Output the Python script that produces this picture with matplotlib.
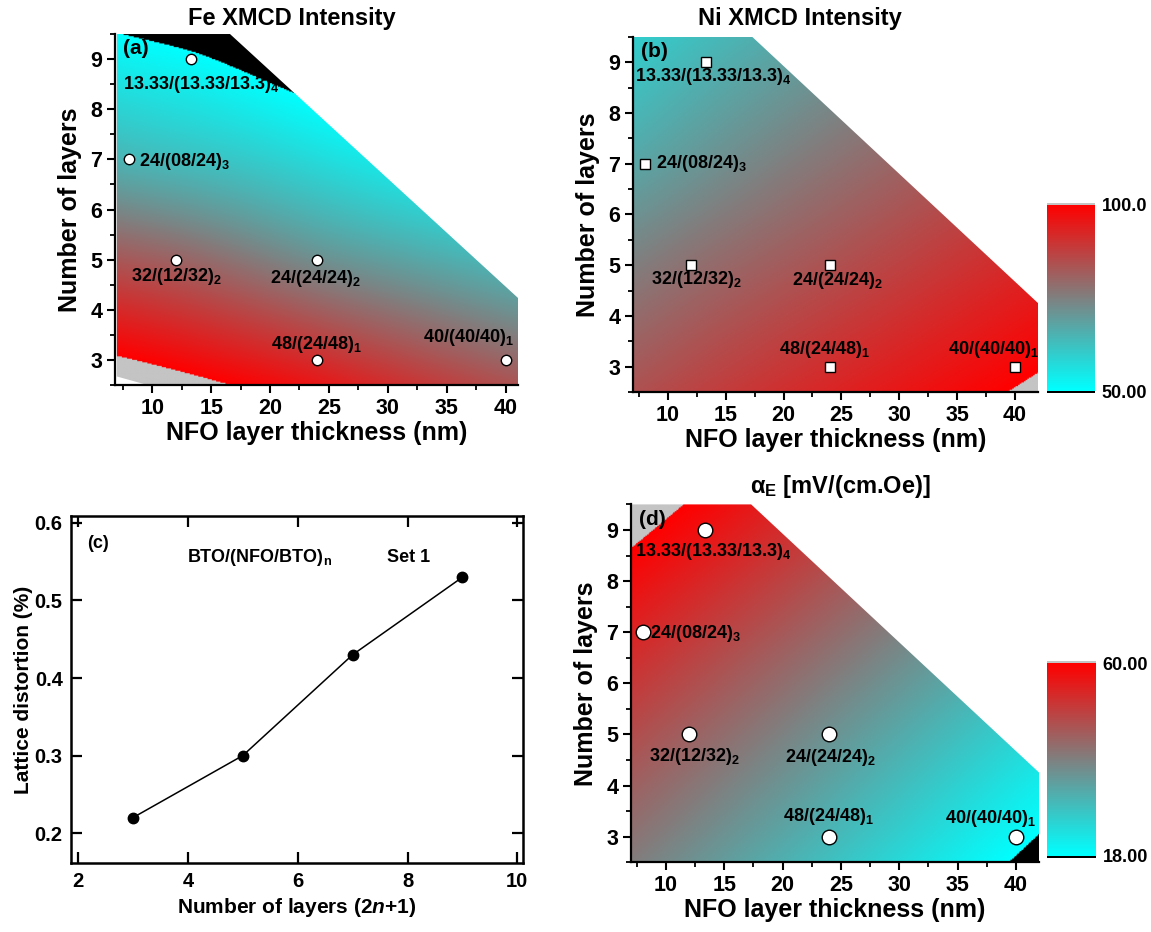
import numpy as np
import matplotlib
matplotlib.use("Agg")
import matplotlib.pyplot as plt
from matplotlib.colors import LinearSegmentedColormap, Normalize
from matplotlib.patches import Polygon
from matplotlib.ticker import MultipleLocator
import matplotlib.cm as cm

plt.rcParams['font.family'] = ['Liberation Sans', 'DejaVu Sans']
plt.rcParams['font.weight'] = 'bold'
plt.rcParams['axes.labelweight'] = 'bold'
plt.rcParams['mathtext.fontset'] = 'custom'
plt.rcParams['mathtext.rm'] = 'Liberation Sans:bold'
plt.rcParams['mathtext.bf'] = 'Liberation Sans:bold'
plt.rcParams['mathtext.it'] = 'Liberation Sans:bold:italic'
plt.rcParams['mathtext.default'] = 'bf'

# ---------------- data ----------------
# sample positions: NFO layer thickness (nm) and number of layers
sample_thickness = [13.33, 8, 12, 24, 24, 40]
sample_layers = [9, 7, 5, 5, 3, 3]
sample_names = ["13.33/(13.33/13.3)$_4$", "24/(08/24)$_3$", "32/(12/32)$_2$",
                "24/(24/24)$_2$", "48/(24/48)$_1$", "40/(40/40)$_1$"]

fe_xmcd = [51.0, 64.5, 80.5, 72, 91.0, 80]
ni_xmcd = [65, 68, 78, 84, 91, 98.6]
alpha_e = [57, 53.5, 44, 36, 30, 19.2]

xmcd_range = [50.0, 100.0]
alpha_range = [18.0, 60.0]
xmcd_tick_labels = ["50.00", "100.0"]
alpha_tick_labels = ["18.00", "60.00"]

# lattice distortion panel
n_layers = [3, 5, 7, 9]
lattice_distortion = [0.22, 0.30, 0.43, 0.53]

# mapped region outlines
region_a_x = [7.0, 7.0, 16.6, 42.0, 42.0, 9.6]
region_a_y = [2.67, 9.5, 9.5, 4.03, 2.5, 2.5]
region_x = [7.0, 7.0, 17.3, 42.0, 42.0]
region_y = [2.5, 9.5, 9.5, 4.25, 2.5]

# label positions (left, baseline) per panel
lab_a_x = [7.54, 8.87, 8.19, 19.98, 20.1, 33.0]
lab_a_y = [8.41, 6.87, 4.58, 4.54, 3.22, 3.35]
lab_b_x = [7.2, 8.94, 8.59, 20.76, 19.6, 34.2]
lab_b_y = [8.63, 6.92, 4.63, 4.61, 3.25, 3.25]
lab_d_x = [7.34, 8.63, 8.54, 20.2, 20.0, 33.9]
lab_d_y = [8.49, 6.89, 4.48, 4.46, 3.30, 3.27]

# ---------------- helpers ----------------
cmap = LinearSegmentedColormap.from_list("cyanred", ["#00ffff", "#ff0000"])
cmap.set_under("black")
cmap.set_over("#c4c4c4")


def tps_field(px, py, pz, gx, gy):
    sx, sy = 35.0, 7.0
    X = np.column_stack([np.asarray(px, float) / sx, np.asarray(py, float) / sy])
    G = np.column_stack([gx.ravel() / sx, gy.ravel() / sy])

    def U(r):
        with np.errstate(divide='ignore', invalid='ignore'):
            v = r ** 2 * np.log(r)
        return np.nan_to_num(v)
    n = len(px)
    K = U(np.linalg.norm(X[:, None] - X[None], axis=2))
    P = np.column_stack([np.ones(n), X])
    A = np.zeros((n + 3, n + 3))
    A[:n, :n] = K
    A[:n, n:] = P
    A[n:, :n] = P.T
    b = np.concatenate([np.asarray(pz, float), np.zeros(3)])
    sol = np.linalg.solve(A, b)
    w, a = sol[:n], sol[n:]
    Kg = U(np.linalg.norm(G[:, None] - X[None], axis=2))
    return (Kg @ w + a[0] + G @ a[1:]).reshape(gx.shape)


def map_panel(ax, values, vrange, rx, ry, xlim, labx, laby, marker, ms, tag):
    gxv = np.linspace(6.5, 42.5, 500)
    gyv = np.linspace(2.4, 9.6, 300)
    gx, gy = np.meshgrid(gxv, gyv)
    field = tps_field(sample_thickness, sample_layers, values, gx, gy)
    norm = Normalize(vmin=vrange[0], vmax=vrange[1])
    im = ax.imshow(field, origin='lower', extent=[gxv[0], gxv[-1], gyv[0], gyv[-1]],
                   cmap=cmap, norm=norm, aspect='auto', interpolation='bilinear')
    poly = Polygon(np.column_stack([rx, ry]), closed=True, transform=ax.transData,
                   facecolor='none', edgecolor='none')
    ax.add_patch(poly)
    im.set_clip_path(poly)
    ax.plot(sample_thickness, sample_layers, linestyle='none', marker=marker,
            ms=ms, mfc='white', mec='black', mew=1.0, zorder=5)
    for name, lx, ly in zip(sample_names, labx, laby):
        ax.text(lx, ly, name, fontsize=13, fontweight='bold', ha='left', va='baseline', zorder=6)
    ax.set_xlim(*xlim)
    ax.set_ylim(2.5, 9.5)
    ax.xaxis.set_major_locator(MultipleLocator(5))
    ax.xaxis.set_minor_locator(MultipleLocator(2.5))
    ax.yaxis.set_major_locator(MultipleLocator(1))
    ax.yaxis.set_minor_locator(MultipleLocator(0.5))
    ax.tick_params(which='major', direction='out', length=6, width=1.5, labelsize=15.5, pad=3)
    ax.tick_params(which='minor', direction='out', length=3.5, width=1.3)
    for lab in ax.get_xticklabels() + ax.get_yticklabels():
        lab.set_fontweight('bold')
    ax.spines['top'].set_visible(False)
    ax.spines['right'].set_visible(False)
    for s in ['left', 'bottom']:
        ax.spines[s].set_linewidth(1.6)
    ax.set_xlabel("NFO layer thickness (nm)", fontsize=18, fontweight='bold', labelpad=2)
    ax.set_ylabel("Number of layers", fontsize=18, fontweight='bold', labelpad=6)
    ax.text(0.02, 0.985, tag, transform=ax.transAxes, fontsize=15, fontweight='bold',
            ha='left', va='top', zorder=7)
    return norm


def colorbar(fig, rect, norm, labels):
    cax = fig.add_axes(rect)
    sm = cm.ScalarMappable(norm=norm, cmap=cmap)
    cb = fig.colorbar(sm, cax=cax, extend='both', extendrect=True, extendfrac=0.012)
    cb.outline.set_visible(False)
    cb.set_ticks([norm.vmin, norm.vmax])
    cb.set_ticklabels(labels)
    cax.tick_params(length=0, labelsize=13, pad=5)
    for lab in cax.get_yticklabels():
        lab.set_fontweight('bold')


fig = plt.figure(figsize=(11.51, 9.32), dpi=100)

ax_a = fig.add_axes([0.1000, 0.5869, 0.3501, 0.3766])
ax_b = fig.add_axes([0.5500, 0.5793, 0.3520, 0.3811])
ax_c = fig.add_axes([0.0617, 0.0737, 0.3930, 0.3727])
ax_d = fig.add_axes([0.5482, 0.0749, 0.3547, 0.3839])

norm_x = map_panel(ax_a, fe_xmcd, xmcd_range, region_a_x, region_a_y, (6.85, 41.05),
                   lab_a_x, lab_a_y, 'o', 7.5, "(a)")
map_panel(ax_b, ni_xmcd, xmcd_range, region_x, region_y, (7.0, 42.0),
          lab_b_x, lab_b_y, 's', 6.8, "(b)")
norm_d = map_panel(ax_d, alpha_e, alpha_range, region_x, region_y, (7.0, 42.0),
                   lab_d_x, lab_d_y, 'o', 10.5, "(d)")

colorbar(fig, [0.9099, 0.5780, 0.0414, 0.2045], norm_x, xmcd_tick_labels)
colorbar(fig, [0.9099, 0.0791, 0.0420, 0.2117], norm_d, alpha_tick_labels)

fig.text(292 / 1151, 1 - 18 / 932, "Fe XMCD Intensity", fontsize=17, fontweight='bold',
         ha='center', va='center')
fig.text(800 / 1151, 1 - 18 / 932, "Ni XMCD Intensity", fontsize=17, fontweight='bold',
         ha='center', va='center')
fig.text(840 / 1151, 1 - 487 / 932, r"α$_E$ [mV/(cm.Oe)]", fontsize=17, fontweight='bold',
         ha='center', va='center')

# panel (c)
ax_c.plot(n_layers, lattice_distortion, color='black', lw=1.1, marker='o', ms=7.5,
          mfc='black', mec='black')
ax_c.set_xlim(1.87, 10.11)
ax_c.set_ylim(0.161, 0.609)
ax_c.set_xticks([2, 4, 6, 8, 10])
ax_c.set_yticks([0.2, 0.3, 0.4, 0.5, 0.6])
ax_c.tick_params(direction='in', top=True, right=True, length=8, width=1.6,
                 labelsize=14.5, pad=6)
for lab in ax_c.get_xticklabels() + ax_c.get_yticklabels():
    lab.set_fontweight('bold')
for s in ax_c.spines.values():
    s.set_linewidth(1.8)
ax_c.set_xlabel(r"Number of layers (2$\mathit{n}$+1)", fontsize=15, fontweight='bold', labelpad=4)
ax_c.set_ylabel("Lattice distortion (%)", fontsize=15, fontweight='bold', labelpad=1)
ax_c.text(2.16, 0.574, "(c)", fontsize=13, fontweight='bold', ha='left', va='center')
ax_c.text(3.98, 0.556, r"BTO/(NFO/BTO)$_n$", fontsize=13, fontweight='bold', ha='left', va='center')
ax_c.text(7.62, 0.556, "Set 1", fontsize=13, fontweight='bold', ha='left', va='center')

fig.savefig("out.png", dpi=100)
